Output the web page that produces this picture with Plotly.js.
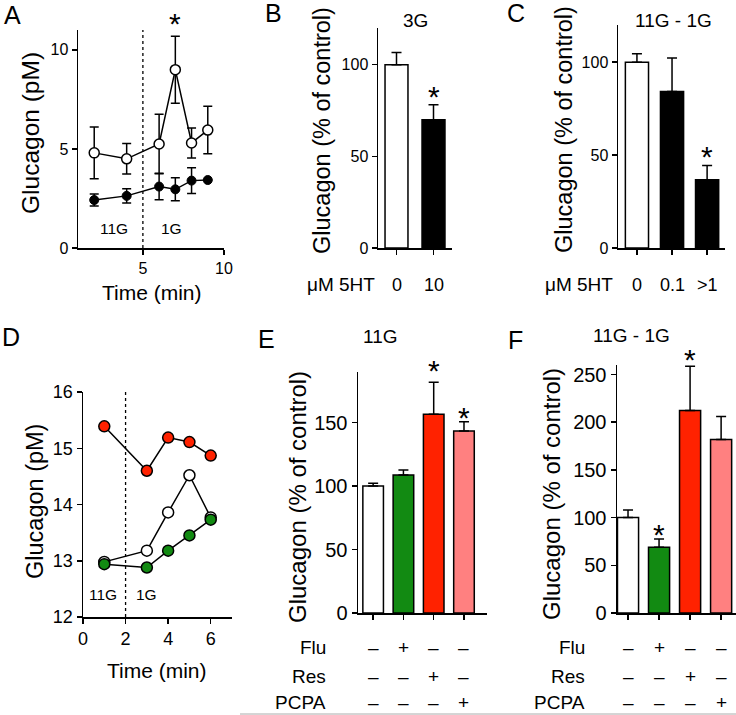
<!DOCTYPE html>
<html>
<head>
<meta charset="utf-8">
<script src="https://cdn.plot.ly/plotly-3.0.1.min.js"></script>
<style>html,body{margin:0;padding:0;background:#fff;}#chart{width:736px;height:715px;}</style>
</head>
<body>
<div id="chart"></div>
<script>
// ---------- DATA ----------
// Panel A
const timeA = [2, 4, 6, 7, 8, 9];
const ctrlA = [4.8, 4.5, 5.25, 9.0, 5.3, 5.95];
const ctrlErrA = [1.3, 0.77, 1.5, 1.69, 0.76, 1.2];
const htA = [2.42, 2.63, 3.1, 2.96, 3.4, 3.43];
const htErrA = [0.3, 0.36, 0.67, 0.58, 0.65, 0];
// Panel B
const catB = ['0', '10'];
const valB = [100, 70];
const errB = [6.7, 8.2];
// Panel C
const catC = ['0', '0.1', '>1'];
const valC = [100, 84.2, 36.7];
const errC = [4.5, 18, 7.7];
// Panel D
const timeD = [1, 3, 4, 5, 6];
const ctrlD = [12.98, 13.18, 13.86, 14.52, 13.77];
const fluD = [12.94, 12.88, 13.18, 13.45, 13.73];
const resD = [15.39, 14.6, 15.19, 15.11, 14.87];
// Panel E
const valE = [100.2, 108.8, 156.6, 143.5];
const errE = [2.1, 4.0, 25.4, 7.3];
// Panel F
const valF = [100, 69, 212.4, 182];
const errF = [8, 8.6, 46.3, 24];
// Treatment table (E, F)
const drugs = ['Flu', 'Res', 'PCPA'];
const fluSigns = ['–', '+', '–', '–'];
const resSigns = ['–', '–', '+', '–'];
const pcpaSigns = ['–', '–', '–', '+'];
// Significance stars: [x, y value]
const starsA = [[7, 11.7]];
const starsB = [[1, 86.3]];
const starsC = [[2, 53]];
const starsE = [[2, 197], [3, 160]];
const starsF = [[1, 90], [2, 273]];

// ---------- STYLE ----------
const FONT = 'Liberation Sans, Arial, Helvetica, sans-serif';
const W = 736, H = 715;
const px = x => x / W;
const py = y => 1 - y / H;
const RED = '#ff2200', PINK = '#ff8080', GREEN = '#128a12';
const barColorsE = ['#ffffff', GREEN, RED, PINK];
const LW = 1.5;

function axisBase(extra) {
  return Object.assign({
    showline: true, linecolor: '#000', linewidth: LW,
    ticks: 'outside', ticklen: 5, tickwidth: LW, tickcolor: '#000',
    showgrid: false, zeroline: false, fixedrange: true,
    tickfont: {family: FONT, size: 16, color: '#000'}
  }, extra);
}

const traces = [];
// Panel A
traces.push({
  type: 'scatter', mode: 'lines+markers', x: timeA, y: htA, xaxis: 'x', yaxis: 'y',
  line: {color: '#000', width: LW},
  marker: {symbol: 'circle', size: 9, color: '#000', line: {color: '#000', width: 1}},
  error_y: {type: 'data', array: htErrA, visible: true, color: '#000', thickness: LW, width: 4.5},
  cliponaxis: false
});
traces.push({
  type: 'scatter', mode: 'lines+markers', x: timeA, y: ctrlA, xaxis: 'x', yaxis: 'y',
  line: {color: '#000', width: LW},
  marker: {symbol: 'circle', size: 10, color: '#fff', line: {color: '#000', width: LW}},
  error_y: {type: 'data', array: ctrlErrA, visible: true, color: '#000', thickness: LW, width: 4.5},
  cliponaxis: false
});
// Panel B
traces.push({
  type: 'bar', x: catB.map((_, i) => i), y: valB, xaxis: 'x2', yaxis: 'y2', width: 0.62,
  marker: {color: ['#fff', '#000'], line: {color: '#000', width: LW}},
  error_y: {type: 'data', array: errB, arrayminus: [0, 0], symmetric: false, color: '#000', thickness: LW, width: 5}
});
// Panel C
traces.push({
  type: 'bar', x: catC.map((_, i) => i), y: valC, xaxis: 'x3', yaxis: 'y3', width: 0.66,
  marker: {color: ['#fff', '#000', '#000'], line: {color: '#000', width: LW}},
  error_y: {type: 'data', array: errC, arrayminus: [0, 0, 0], symmetric: false, color: '#000', thickness: LW, width: 5}
});
// Panel D
[[ctrlD, '#fff'], [fluD, GREEN], [resD, RED]].forEach(([ys, c]) => {
  traces.push({
    type: 'scatter', mode: 'lines+markers', x: timeD, y: ys, xaxis: 'x4', yaxis: 'y4',
    line: {color: '#000', width: LW},
    marker: {symbol: 'circle', size: 11, color: c, line: {color: '#000', width: LW}},
    cliponaxis: false
  });
});
// Panel E
traces.push({
  type: 'bar', x: valE.map((_, i) => i), y: valE, xaxis: 'x5', yaxis: 'y5', width: 0.68,
  marker: {color: barColorsE, line: {color: '#000', width: LW}},
  error_y: {type: 'data', array: errE, arrayminus: [0, 0, 0, 0], symmetric: false, color: '#000', thickness: LW, width: 5}
});
// Panel F
traces.push({
  type: 'bar', x: valF.map((_, i) => i), y: valF, xaxis: 'x6', yaxis: 'y6', width: 0.68,
  marker: {color: barColorsE, line: {color: '#000', width: LW}},
  error_y: {type: 'data', array: errF, arrayminus: [0, 0, 0, 0], symmetric: false, color: '#000', thickness: LW, width: 5}
});

const layout = {
  width: W, height: H, margin: {l: 0, r: 0, t: 0, b: 0}, showlegend: false,
  paper_bgcolor: '#fff', plot_bgcolor: 'rgba(0,0,0,0)',
  font: {family: FONT, color: '#000'},
  xaxis: axisBase({domain: [px(78), px(224)], range: [1, 10], tickvals: [5, 10], anchor: 'y'}),
  yaxis: axisBase({domain: [py(248), py(30)], range: [0, 11], tickvals: [0, 5, 10], anchor: 'x'}),
  xaxis2: axisBase({domain: [px(378), px(452)], range: [-0.5, 1.5], tickvals: [0, 1], showticklabels: false, anchor: 'y2'}),
  yaxis2: axisBase({domain: [py(248), py(28)], range: [0, 120], tickvals: [0, 50, 100], anchor: 'x2'}),
  xaxis3: axisBase({domain: [px(618), px(725)], range: [-0.54, 2.51], tickvals: [0, 1, 2], showticklabels: false, anchor: 'y3'}),
  yaxis3: axisBase({domain: [py(248), py(25)], range: [0, 120], tickvals: [0, 50, 100], anchor: 'x3'}),
  xaxis4: axisBase({domain: [px(83), px(232)], range: [0, 7], tickvals: [0, 2, 4, 6], anchor: 'y4', tickfont: {family: FONT, size: 18, color: '#000'}}),
  yaxis4: axisBase({domain: [py(617), py(392)], range: [12, 16], tickvals: [12, 13, 14, 15, 16], anchor: 'x4', tickfont: {family: FONT, size: 18, color: '#000'}}),
  xaxis5: axisBase({domain: [px(358), px(487)], range: [-0.5, 3.76], tickvals: [0, 1, 2, 3], showticklabels: false, anchor: 'y5'}),
  yaxis5: axisBase({domain: [py(613), py(372)], range: [0, 190], tickvals: [0, 50, 100, 150], anchor: 'x5', tickfont: {family: FONT, size: 20, color: '#000'}}),
  xaxis6: axisBase({domain: [px(617), 1], range: [-0.355, 3.48], tickvals: [0, 1, 2, 3], showticklabels: false, anchor: 'y6'}),
  yaxis6: axisBase({domain: [py(613), py(365)], range: [0, 260], tickvals: [0, 50, 100, 150, 200, 250], anchor: 'x6', tickfont: {family: FONT, size: 20, color: '#000'}}),
  shapes: [
    {type: 'line', xref: 'x', yref: 'y', x0: 5, x1: 5, y0: 0, y1: 11, line: {color: '#000', width: 1.3, dash: 'dot'}},
    {type: 'line', xref: 'x4', yref: 'y4', x0: 2, x1: 2, y0: 12, y1: 16, line: {color: '#000', width: 1.3, dash: 'dot'}},
    {type: 'line', xref: 'paper', yref: 'paper', x0: px(240), x1: 1, y0: py(714), y1: py(714), line: {color: '#aaaaaa', width: 1}}
  ]
};

const ann = [];
function txt(text, x, y, size, opts) {
  ann.push(Object.assign({text: text, x: x, y: y, xref: 'paper', yref: 'paper', showarrow: false,
    xanchor: 'center', yanchor: 'middle', font: {family: FONT, size: size, color: '#000'}}, opts || {}));
}
// panel letters
txt('A', px(13), py(15), 25);
txt('B', px(273), py(13), 25);
txt('C', px(516), py(13), 25);
txt('D', px(11), py(337), 25);
txt('E', px(266), py(339), 25);
txt('F', px(515), py(340), 25);
// subtitles
txt('3G', px(415), py(20), 19);
txt('11G - 1G', px(673), py(20), 19);
txt('11G', px(380), py(336), 19);
txt('11G - 1G', px(631), py(335), 19);
// axis titles
txt('Glucagon (pM)', px(30), py(133), 24.5, {textangle: -90});
txt('Time (min)', px(152), py(293), 21);
txt('Glucagon (% of control)', px(322), py(131), 23.5, {textangle: -90});
txt('Glucagon (% of control)', px(564), py(130), 23.5, {textangle: -90});
txt('Glucagon (pM)', px(35), py(502), 23.5, {textangle: -90});
txt('Time (min)', px(157), py(670), 21);
txt('Glucagon (% of control)', px(297), py(497), 24, {textangle: -90});
txt('Glucagon (% of control)', px(551), py(494), 24, {textangle: -90});
// 5HT labels
txt('μM 5HT', px(341), py(285), 19);
txt('μM 5HT', px(579), py(285), 19);
catB.forEach((c, i) => ann.push({text: c, x: i, xref: 'x2', y: py(285), yref: 'paper', showarrow: false,
  xanchor: 'center', yanchor: 'middle', font: {family: FONT, size: 18, color: '#000'}}));
catC.forEach((c, i) => ann.push({text: c, x: i, xref: 'x3', y: py(285), yref: 'paper', showarrow: false,
  xanchor: 'center', yanchor: 'middle', font: {family: FONT, size: 18, color: '#000'}}));
// glucose labels in A and D
ann.push({text: '11G', x: 3.22, y: 0.96, xref: 'x', yref: 'y', showarrow: false, font: {family: FONT, size: 15.5, color: '#000'}});
ann.push({text: '1G', x: 6.75, y: 0.96, xref: 'x', yref: 'y', showarrow: false, font: {family: FONT, size: 15.5, color: '#000'}});
ann.push({text: '11G', x: 0.94, y: 12.4, xref: 'x4', yref: 'y4', showarrow: false, font: {family: FONT, size: 15.5, color: '#000'}});
ann.push({text: '1G', x: 3.0, y: 12.4, xref: 'x4', yref: 'y4', showarrow: false, font: {family: FONT, size: 15.5, color: '#000'}});
// treatment table
const rowsY = [647, 676, 702];
const signRows = [fluSigns, resSigns, pcpaSigns];
[['x5', 328], ['x6', 587]].forEach(([xr, labX]) => {
  drugs.forEach((d, r) => {
    txt(d, px(labX), py(rowsY[r]), 19, {xanchor: 'right'});
    signRows[r].forEach((s, i) => ann.push({text: s, x: i, xref: xr, y: py(rowsY[r]), yref: 'paper', showarrow: false,
      xanchor: 'center', yanchor: 'middle', font: {family: FONT, size: 19, color: '#000'}}));
  });
});
// stars (placed via the y axis domain so they may sit above the axis range)
[['x', 'yaxis', 'y', starsA], ['x2', 'yaxis2', 'y2', starsB], ['x3', 'yaxis3', 'y3', starsC],
 ['x5', 'yaxis5', 'y5', starsE], ['x6', 'yaxis6', 'y6', starsF]].forEach(([xr, yk, yr, list]) => {
  const r = layout[yk].range;
  list.forEach(([x, y]) => ann.push({text: '*', x: x, y: (y - r[0]) / (r[1] - r[0]), xref: xr, yref: yr + ' domain', showarrow: false,
    xanchor: 'center', yanchor: 'middle', yshift: -7, font: {family: FONT, size: 30, color: '#000'}}));
});
layout.annotations = ann;

Plotly.newPlot('chart', traces, layout, {staticPlot: true, displayModeBar: false});
</script>
</body>
</html>
